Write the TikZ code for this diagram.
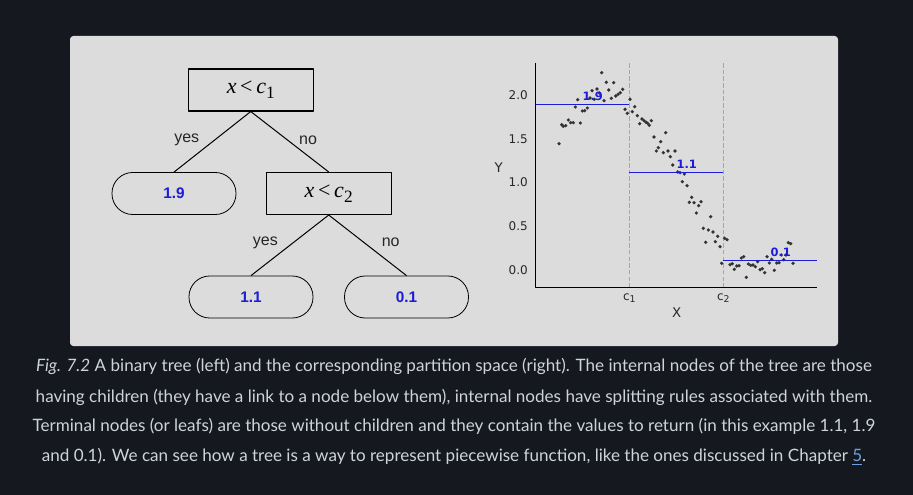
\documentclass[tikz,border=0pt]{standalone}
\usepackage{fontspec}
\setmainfont{Lato}
\newfontfamily\plotfont{DejaVu Sans}
\newfontfamily\treefont{Liberation Sans}
\newfontfamily\rulefont{Liberation Serif}
\usepackage{xcolor}
\usepackage{tikz}
\usetikzlibrary{calc}
\definecolor{pagebg}{RGB}{21,24,31}
\definecolor{panelbg}{RGB}{220,220,220}
\definecolor{captext}{RGB}{206,212,218}
\definecolor{linkcol}{RGB}{110,160,225}
\definecolor{valblue}{RGB}{28,28,215}
\definecolor{dotcol}{RGB}{50,50,50}
\definecolor{ticktext}{RGB}{40,40,40}

\begin{document}
\begin{tikzpicture}[x=0.75pt,y=-0.75pt,line join=round,
  splitbox/.style={draw,line width=0.8pt,minimum width=93.75pt,minimum height=31.5pt,inner sep=0pt},
  leafbox/.style={draw,line width=0.6pt,rounded corners=15.5pt,minimum width=93pt,minimum height=31.5pt,
    inner sep=0pt,font=\treefont\bfseries\fontsize{11.5}{13}\selectfont,text=valblue},
  branch/.style={font=\treefont\fontsize{12}{14}\selectfont,text=black!85},
  ticklab/.style={font=\plotfont\fontsize{9}{10}\selectfont,text=ticktext},
  vallab/.style={font=\plotfont\bfseries\fontsize{8.6}{10}\selectfont,text=valblue},
  capline/.style={font=\fontsize{12.8}{15}\selectfont,text=captext}]
  % background and panel
  \fill[pagebg] (0,0) rectangle (913,495);
  \useasboundingbox (0,0) rectangle (913,495);
  \fill[panelbg,rounded corners=2.5pt] (70,36) rectangle (838,346);

  % tree
  \node[splitbox] (R) at (250.75,90) {\rulefont\fontsize{16.5}{18}\selectfont\itshape x\,\upshape<\,\itshape c\raisebox{-4pt}{\upshape\fontsize{13}{14}\selectfont 1}};
  \node[leafbox] (L19) at (174,193.5) {1.9};
  \node[splitbox] (S2) at (328.7,193.5) {\rulefont\fontsize{16.5}{18}\selectfont\itshape x\,\upshape<\,\itshape c\raisebox{-4pt}{\upshape\fontsize{13}{14}\selectfont 2}};
  \node[leafbox] (L11) at (251,297) {1.1};
  \node[leafbox] (L01) at (406.5,297) {0.1};
  \draw[line width=0.75pt] (R.south) -- (L19.north);
  \draw[line width=0.75pt] (R.south) -- (S2.north);
  \draw[line width=0.75pt] (S2.south) -- (L11.north);
  \draw[line width=0.75pt] (S2.south) -- (L01.north);
  \node[branch] (y1) at (186.7,140) {yes};
  \node[branch] (n1) at (308,140) {no};
  \node[branch] (y2) at (265.3,242.7) {yes};
  \node[branch] (n2) at (390.7,242.7) {no};

  % partition plot
  \coordinate (Ytop) at (535.3,62.7);
  \coordinate (O) at (535.3,287.7);
  \coordinate (Xend) at (817.3,287.7);
  \coordinate (C1) at (629.3,287.7);
  \coordinate (C2) at (723.3,287.7);
  \draw[gray!70,line width=0.7pt,dash pattern=on 3.4pt off 1.6pt] (C1) -- (C1 |- Ytop);
  \draw[gray!70,line width=0.7pt,dash pattern=on 3.4pt off 1.6pt] (C2) -- (C2 |- Ytop);
  \foreach \px/\py in {559.0/143.7,561.7/124.7,563.3/126.3,565.7/125.7,568.3/120.0,570.7/122.7,
    573.3/122.7,575.3/107.0,577.7/99.7,580.3/123.0,582.3/111.0,584.7/110.7,587.3/108.0,590.0/98.0,
    592.0/90.7,594.3/99.3,597.0/89.0,599.3/93.0,601.7/72.7,604.0/100.7,606.3/82.3,608.7/90.0,
    611.3/98.3,613.7/82.7,615.7/96.0,618.0/94.3,620.3/92.7,622.7/89.3,625.0/109.3,627.3/113.3,
    630.0/99.3,632.3/111.7,634.7/106.7,637.3/115.7,639.7/123.7,642.0/119.0,644.0/120.7,646.0/122.3,
    647.7/123.3,649.3/125.3,651.3/120.7,654.0/137.0,656.3/151.0,658.3/147.7,660.7/141.7,663.3/152.7,
    665.7/132.7,668.0/151.0,670.3/156.7,672.7/165.0,675.0/151.0,677.7/172.0,680.0/172.7,682.3/181.7,
    684.3/174.0,687.0/185.7,689.3/202.3,691.7/197.3,694.0/202.7,696.3/213.0,698.7/205.7,701.0/201.7,
    703.3/228.3,705.7/242.3,708.3/230.0,710.7/216.7,713.0/232.0,715.3/241.7,717.7/236.3,720.0/246.7,
    721.7/263.3,724.7/238.3,727.0/239.7,730.0/264.7,732.3/263.7,734.3/269.3,736.7/266.0,739.0/265.7,
    741.3/258.0,743.7/256.7,746.3/277.3,748.3/264.0,750.7/265.3,753.0/265.0,755.3/266.7,757.7/261.7,
    760.0/269.7,762.3/268.7,764.7/272.7,767.0/256.7,769.3/263.0,771.7/259.3,774.3/270.3,776.7/263.0,
    779.0/262.7,781.3/255.0,783.7/259.7,786.0/255.0,788.3/242.7,790.7/243.7,793.0/263.3}
    \fill[dotcol] (\px,\py) circle[radius=1.35pt];
  \draw[valblue,line width=0.9pt] (O |- 0,104.5) -- (C1 |- 0,104.5);
  \draw[valblue,line width=0.9pt] (C1 |- 0,172.3) -- (C2 |- 0,172.3);
  \draw[valblue,line width=0.9pt] (C2 |- 0,260.7) -- (Xend |- 0,260.7);
  \draw[black,line width=0.8pt] (Ytop) -- (O) -- (Xend);
  \node[vallab] (v19) at (592.7,96) {1.9};
  \node[vallab] (v11) at (686.7,164) {1.1};
  \node[vallab] (v01) at (780.7,252.7) {0.1};
  \foreach \yv/\yl in {95/2.0,138.75/1.5,182.5/1.0,226.25/0.5,270/0.0}
    \node[ticklab,anchor=east] at (532.5,\yv) {\yl};
  \node[ticklab] (c1lab) at (629.3,298) {c\raisebox{-1.5pt}{\fontsize{7}{8}\selectfont 1}};
  \node[ticklab] (c2lab) at (723.3,298) {c\raisebox{-1.5pt}{\fontsize{7}{8}\selectfont 2}};
  \node[ticklab,font=\plotfont\fontsize{10}{11}\selectfont] (xlab) at (676.7,312.7) {X};
  \node[ticklab,font=\plotfont\fontsize{10}{11}\selectfont] (ylab) at (498.7,167.3) {Y};

  % caption
  \node[capline] (cap1) at (454,366.7) {\textit{Fig. 7.2} A binary tree (left) and the corresponding partition space (right). The internal nodes of the tree are those};
  \node[capline] (cap2) at (454,397.3) {having children (they have a link to a node below them), internal nodes have splitting rules associated with them.};
  \node[capline] (cap3) at (454,426.7) {Terminal nodes (or leafs) are those without children and they contain the values to return (in this example 1.1, 1.9};
  \node[capline] (cap4) at (454,456.7) {and 0.1). We can see how a tree is a way to represent piecewise function, like the ones discussed in Chapter \textcolor{linkcol}{\underline{5}}.};
\end{tikzpicture}
\end{document}
